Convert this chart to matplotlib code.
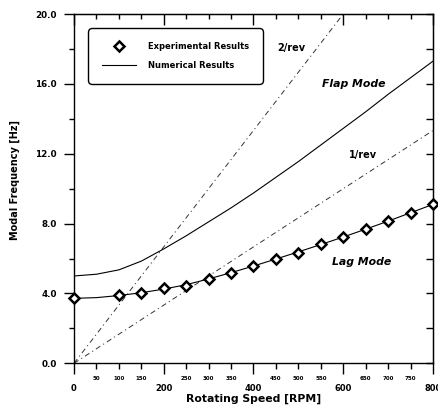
import matplotlib
matplotlib.use('Agg')
import matplotlib.pyplot as plt
from matplotlib.lines import Line2D
from matplotlib.ticker import MultipleLocator, FormatStrFormatter

plt.rcParams['font.family'] = 'DejaVu Sans'
plt.rcParams['lines.scale_dashes'] = False

# experimental lag mode
rpm_exp = [0, 100, 150, 200, 250, 300, 350, 400, 450, 500, 550, 600, 650, 700, 750, 800]
lag_exp = [3.72, 3.91, 4.01, 4.30, 4.45, 4.85, 5.19, 5.58, 5.98, 6.34, 6.82, 7.22, 7.70, 8.17, 8.60, 9.11]

# numerical results
rpm_num = [0, 50, 100, 150, 200, 250, 300, 350, 400, 450, 500, 550, 600, 650, 700, 750, 800]
lag_num = [3.72, 3.76, 3.88, 4.04, 4.25, 4.50, 4.83, 5.19, 5.57, 5.97, 6.38, 6.80, 7.23, 7.68, 8.14, 8.62, 9.10]
flap_num = [5.0, 5.1, 5.35, 5.85, 6.55, 7.3, 8.1, 8.9, 9.75, 10.65, 11.55, 12.5, 13.45, 14.4, 15.4, 16.35, 17.3]

# 1/rev and 2/rev lines
rev_rpm = [0, 800]
one_rev = [0.0, 13.33]
two_rev = [0.0, 26.67]

fig = plt.figure(figsize=(4.39, 4.12), dpi=100)
ax = fig.add_axes([74/439, 1-363.3/412, 359/439, 349.3/412])

dd = (0, (3.8, 2.4, 0.8, 2.4))
ax.plot(rev_rpm, one_rev, color='#333333', lw=0.7, ls=dd)
ax.plot(rev_rpm, two_rev, color='#333333', lw=0.7, ls=dd)
ax.plot(rpm_num, flap_num, color='black', lw=0.8)
ax.plot(rpm_num, lag_num, color='black', lw=0.8)
ax.plot(rpm_exp, lag_exp, ls='none', marker='D', ms=5.5, mfc='white', mec='black', mew=1.8,
        zorder=5, clip_on=False)

ax.set_xlim(0, 800)
ax.set_ylim(0, 20)
for s in ax.spines.values():
    s.set_linewidth(1.0)

# ticks
ax.xaxis.set_major_locator(MultipleLocator(200))
ax.xaxis.set_minor_locator(MultipleLocator(50))
ax.xaxis.set_minor_formatter(FormatStrFormatter('%d'))
ax.yaxis.set_major_locator(MultipleLocator(4))
ax.yaxis.set_minor_locator(MultipleLocator(2))
ax.yaxis.set_major_formatter(FormatStrFormatter('%.1f'))
ax.tick_params(axis='x', which='major', direction='out', length=8, width=1, pad=7, labelsize=6)
ax.tick_params(axis='x', which='minor', direction='out', length=4, width=1, pad=5.5, labelsize=4)
ax.tick_params(axis='y', which='major', direction='out', length=7.5, width=1, pad=5, labelsize=6.3)
ax.tick_params(axis='y', which='minor', direction='out', length=3.5, width=1)
for lab in ax.get_xticklabels() + ax.get_yticklabels() + ax.get_xticklabels(minor=True):
    lab.set_fontweight('bold')

top = ax.secondary_xaxis('top')
top.xaxis.set_major_locator(MultipleLocator(200))
top.xaxis.set_minor_locator(MultipleLocator(50))
top.tick_params(which='major', direction='in', length=8, width=1, labeltop=False)
top.tick_params(which='minor', direction='in', length=3.5, width=1)
right = ax.secondary_yaxis('right')
right.yaxis.set_major_locator(MultipleLocator(4))
right.yaxis.set_minor_locator(MultipleLocator(2))
right.tick_params(which='major', direction='in', length=5, width=1, labelright=False)
right.tick_params(which='minor', direction='in', length=5, width=1)

ax.set_xlabel('Rotating Speed [RPM]', fontsize=7.8, fontweight='bold')
ax.set_ylabel('Modal Frequency [Hz]', fontsize=7, fontweight='bold')
ax.xaxis.set_label_coords(0.5, -0.088)
ax.yaxis.set_label_coords(-0.15, 0.525)

# annotations
ax.text(485, 18.05, '2/rev', fontsize=7, fontweight='bold', ha='center', va='center')
ax.text(624, 16.0, 'Flap Mode', fontsize=7.8, fontweight='bold', style='italic', ha='center', va='center')
ax.text(643, 11.94, '1/rev', fontsize=7, fontweight='bold', ha='center', va='center')
ax.text(640, 5.82, 'Lag Mode', fontsize=7.8, fontweight='bold', style='italic', ha='center', va='center')

handles = [Line2D([], [], ls='none', marker='D', ms=5.5, mfc='white', mec='black', mew=1.8),
           Line2D([], [], color='black', lw=0.8)]
leg = ax.legend(handles, ['Experimental Results', 'Numerical Results'], loc='upper left',
                bbox_to_anchor=(0.039, 0.96), borderaxespad=0,
                prop={'weight': 'bold', 'size': 6}, handlelength=4, handletextpad=1.5,
                borderpad=1.7, labelspacing=1.2, framealpha=1, edgecolor='black')
leg.get_frame().set_linewidth(1.0)
leg.get_frame().set_boxstyle('round', pad=0, rounding_size=0.5)

fig.savefig('out.png', dpi=100)
